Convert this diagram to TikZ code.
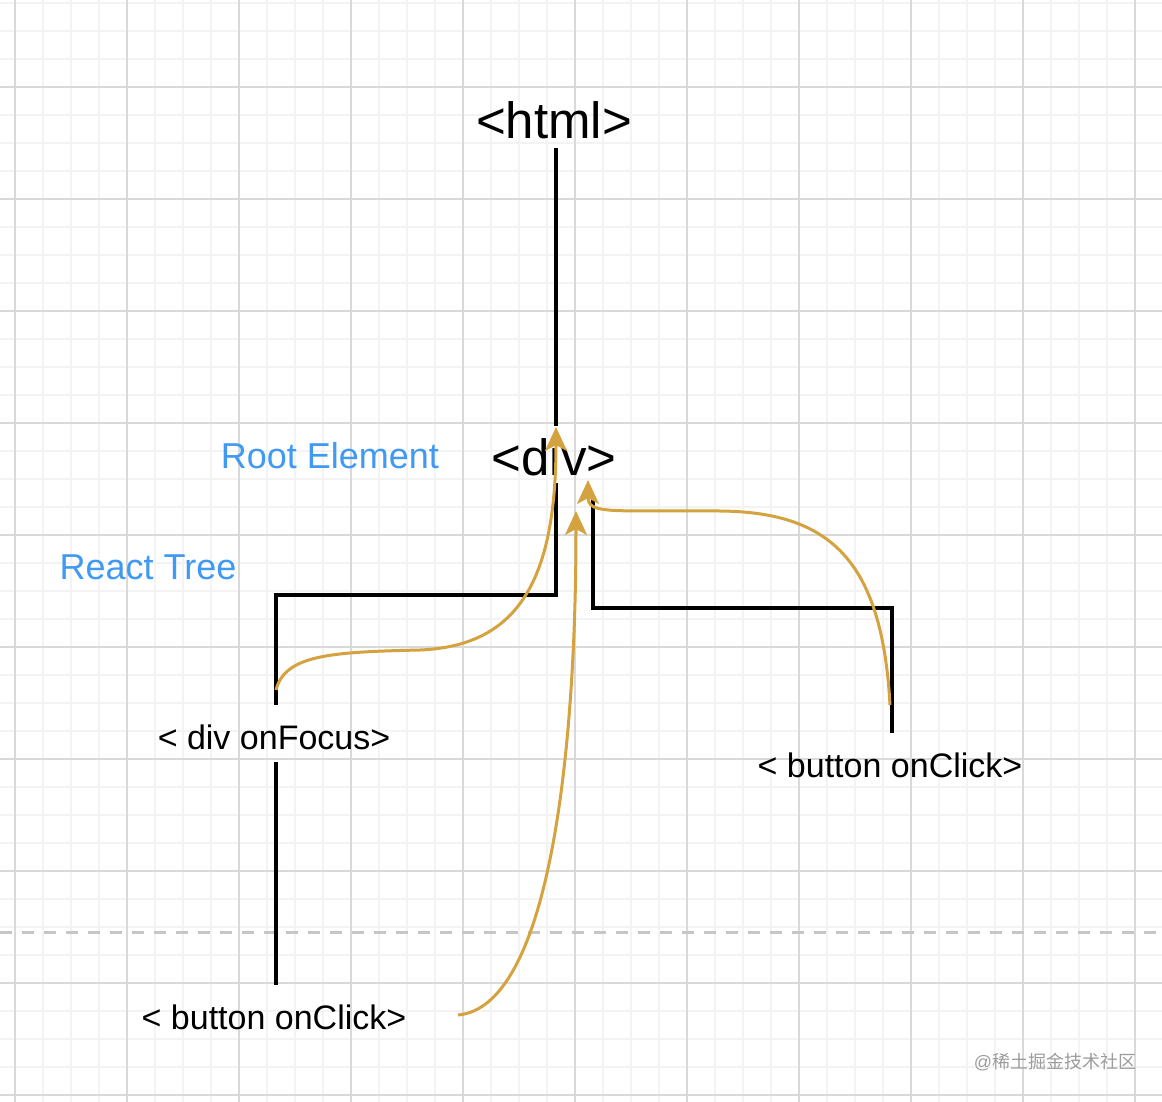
\documentclass[tikz,border=0pt]{standalone}
\usepackage{fontspec}
\setmainfont{Liberation Sans}
\newfontfamily\cjkfont{Noto Sans CJK SC}
\usetikzlibrary{arrows.meta}
\definecolor{gridminor}{HTML}{F3F3F3}
\definecolor{gridmajor}{HTML}{D9D9D9}
\definecolor{dashgray}{HTML}{C6C6C6}
\definecolor{flowor}{HTML}{D4A23E}
\definecolor{labelblue}{HTML}{4099F2}
\definecolor{wmgray}{HTML}{9C9C9C}
\tikzset{
  big/.style={inner sep=0pt, font=\fontsize{51}{60}\selectfont},
  tag/.style={inner sep=0pt, font=\fontsize{34}{40}\selectfont},
  bluelabel/.style={inner sep=0pt, text=labelblue, font=\fontsize{36}{42}\selectfont},
  treeline/.style={line width=3.2pt, black},
  flow/.style={line width=3pt, flowor, -{Stealth[length=24pt,width=22pt,inset=6pt]}},
}
\begin{document}
\begin{tikzpicture}[x=1pt,y=-1pt]
\useasboundingbox (0,0) rectangle (1162,1102);
\fill[white] (0,0) rectangle (1162,1102);
% grid
\foreach \i in {0,...,41} {
  \draw[gridminor, line width=1.5pt] ({15+28*(\i-1)},0) -- ({15+28*(\i-1)},1102);
}
\foreach \j in {0,...,39} {
  \draw[gridminor, line width=1.5pt] (0,{3+28*\j}) -- (1162,{3+28*\j});
}
\foreach \i in {0,...,10} {
  \draw[gridmajor, line width=2pt] ({15+112*\i},0) -- ({15+112*\i},1102);
}
\foreach \j in {0,...,9} {
  \draw[gridmajor, line width=2pt] (0,{87+112*\j}) -- (1162,{87+112*\j});
}
% dashed separator
\draw[dashgray, line width=3pt, dash pattern=on 12pt off 10pt] (0,932) -- (1162,932);

% text nodes
\node[big] (html) at (554,120) {<html>};
\node[big] (div) at (554,457) {<div>};
\node[bluelabel] (root) at (330,456) {Root Element};
\node[bluelabel] (react) at (148,567) {React Tree};
\node[tag] (dof) at (274,737) {< div onFocus>};
\node[tag] (btnA) at (274,1017) {< button onClick>};
\node[tag] (btnB) at (890,765) {< button onClick>};
\node[inner sep=0pt, text=wmgray, font=\fontsize{18}{22}\selectfont] (wm) at (1055,1062) {@{\cjkfont 稀土掘金技术社区}};

% connector endpoints
\coordinate (htmlB) at (556,148);
\coordinate (divT) at (556,426);
\coordinate (divB) at (556,483);
\coordinate (lElbowA) at (556,595);
\coordinate (lElbowB) at (276,595);
\coordinate (dofT) at (276,705);
\coordinate (dofB) at (276,762);
\coordinate (btnAT) at (276,985);
\coordinate (divBR) at (593,497);
\coordinate (rElbowA) at (593,608);
\coordinate (rElbowB) at (892,608);
\coordinate (btnBT) at (892,733);

% tree lines
\draw[treeline] (htmlB) -- (divT);
\draw[treeline] (divB) -- (lElbowA) -- (lElbowB) -- (dofT);
\draw[treeline] (dofB) -- (btnAT);
\draw[treeline] (divBR) -- (rElbowA) -- (rElbowB) -- (btnBT);

% event flow curves
\coordinate (f1s) at (276,690);
\coordinate (f1e) at (556,427);
\coordinate (f2s) at (458,1015);
\coordinate (f2e) at (576,511);
\coordinate (f3s) at (890,705);
\coordinate (f3e) at (588,480);
\draw[flow] (f1s) .. controls (285,655) and (330,652) .. (420,650)
  .. controls (515,646) and (556,585) .. (f1e);
\draw[flow] (f2s) .. controls (548,1007) and (576,760) .. (f2e);
\draw[flow] (f3s) .. controls (882,560) and (830,512) .. (720,511)
  .. controls (612,510) and (588,515) .. (f3e);
\end{tikzpicture}
\end{document}
